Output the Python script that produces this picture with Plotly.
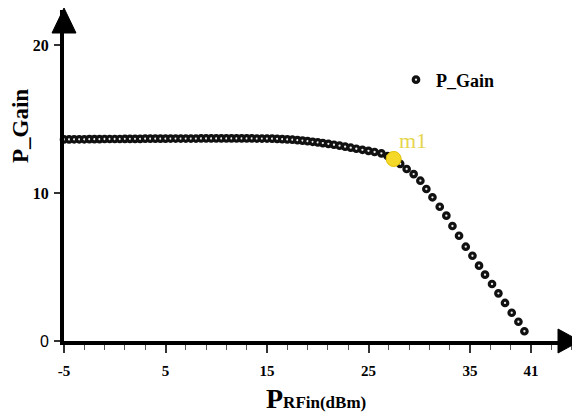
import plotly.graph_objects as go

# ---- data ----
P_RFin = [-5.0, -4.5, -4.0, -3.5, -3.0, -2.5, -2.0, -1.5, -1.0, -0.5,
          0.0, 0.5, 1.0, 1.5, 2.0, 2.5, 3.0, 3.5, 4.0, 4.5,
          5.0, 5.5, 6.0, 6.5, 7.0, 7.5, 8.0, 8.5, 9.0, 9.5,
          10.0, 10.5, 11.0, 11.5, 12.0, 12.5, 13.0, 13.5, 14.0, 14.5,
          15.0, 15.5, 16.0, 16.5, 17.0, 17.5, 18.0, 18.5, 19.0, 19.5,
          20.0, 20.5, 21.05, 21.6, 22.15, 22.7, 23.25, 23.8, 24.4, 25.0,
          25.6, 26.27, 26.88, 27.48, 28.12, 28.76, 29.45, 30.11, 30.70, 31.30,
          32.02, 32.67, 33.27, 33.92, 34.58, 35.24, 35.89, 36.48, 37.17, 37.80,
          38.45, 39.11, 39.77, 40.36]
P_Gain = [13.62, 13.62, 13.63, 13.63, 13.63, 13.64, 13.64, 13.64, 13.65, 13.65,
          13.65, 13.65, 13.66, 13.66, 13.66, 13.66, 13.67, 13.67, 13.67, 13.67,
          13.67, 13.68, 13.68, 13.68, 13.68, 13.68, 13.68, 13.69, 13.69, 13.69,
          13.69, 13.69, 13.69, 13.69, 13.69, 13.69, 13.69, 13.69, 13.68, 13.68,
          13.68, 13.67, 13.66, 13.64, 13.62, 13.60, 13.57, 13.54, 13.50, 13.46,
          13.42, 13.37, 13.32, 13.26, 13.20, 13.13, 13.06, 12.99, 12.92, 12.85,
          12.77, 12.68, 12.50, 12.30, 11.97, 11.62, 11.28, 10.83, 10.27, 9.71,
          9.07, 8.47, 7.77, 7.11, 6.37, 5.76, 5.09, 4.48, 3.85, 3.22,
          2.57, 1.91, 1.30, 0.66]
assert len(P_RFin) == len(P_Gain)

m1_index = 63
m1_label = "m1"

x_tickvals = [-5, 5, 15, 25, 35, 41]
x_ticktext = ["<b>-5</b>", "<b>5</b>", "<b>15</b>", "<b>25</b>", "<b>35</b>", "<b>41</b>"]
y_tickvals = [0, 10, 20]
y_ticktext = ["<span style='font-family:Liberation Sans'>0</span>", "<b>10</b>", "<b>20</b>"]

# ---- layout geometry (page body has an 8px margin) ----
OFF = 8
W, H = 580 - OFF, 415 - OFF
ML, MR, MT, MB = 64 - OFF, 0, 10 - OFF, 74
PW, PH = W - ML - MR, H - MT - MB
X_PX_PER_UNIT = 10.15
Y_PX_PER_UNIT = 14.8
x_range = [-5, -5 + PW / X_PX_PER_UNIT]
y_range = [0, PH / Y_PX_PER_UNIT]


def px(xp):
    """reference-page pixel x -> paper"""
    return (xp - OFF - ML) / PW


def py(yp):
    """reference-page pixel y -> paper"""
    return (MT + PH - (yp - OFF)) / PH


SERIF = "Liberation Serif, Times New Roman, serif"

fig = go.Figure()
fig.add_trace(go.Scatter(
    x=P_RFin, y=P_Gain, mode="markers", name="<b>P_Gain</b>",
    marker=dict(symbol="circle", size=5.5, color="#eeeeee",
                line=dict(color="#111111", width=3.2)),
    cliponaxis=False,
))
fig.add_trace(go.Scatter(
    x=[P_RFin[m1_index]], y=[P_Gain[m1_index]], mode="markers",
    showlegend=False,
    marker=dict(symbol="circle", size=15, color="#f4d92a",
                line=dict(color="#e0c000", width=1)),
))

fig.add_annotation(x=P_RFin[m1_index], y=P_Gain[m1_index], text=m1_label,
                   showarrow=False, xanchor="left", yanchor="bottom",
                   xshift=3, yshift=4,
                   font=dict(family=SERIF, size=22, color="#e6d64c"))

# axis titles
fig.add_annotation(xref="paper", yref="paper", x=px(21), y=py(126),
                   text="<b>P_Gain</b>", textangle=-90, showarrow=False,
                   xanchor="center", yanchor="middle",
                   font=dict(family=SERIF, size=23, color="black"))
fig.add_annotation(xref="paper", yref="paper", x=px(316), y=py(398),
                   text="<b>P<span style='font-size:17px'>RFin(dBm)</span></b>",
                   showarrow=False, xanchor="center", yanchor="middle",
                   font=dict(family=SERIF, size=28, color="black"))

# arrow heads
fig.add_shape(type="path", xref="paper", yref="paper",
              path=f"M {px(64)} {py(8)} L {px(52)} {py(33)} L {px(76)} {py(33)} Z",
              fillcolor="black", line=dict(color="black", width=1))
fig.add_shape(type="path", xref="paper", yref="paper",
              path=f"M {px(580)} {py(341)} L {px(558)} {py(329)} L {px(558)} {py(353)} Z",
              fillcolor="black", line=dict(color="black", width=1))

fig.update_layout(
    width=W, height=H,
    margin=dict(l=ML, r=MR, t=MT, b=MB),
    plot_bgcolor="white", paper_bgcolor="white",
    showlegend=True,
    legend=dict(x=px(396), y=py(80), xanchor="left", yanchor="middle",
                bgcolor="rgba(0,0,0,0)",
                font=dict(family=SERIF, size=18, color="black")),
    xaxis=dict(range=x_range, showgrid=False, zeroline=False,
               showline=True, linecolor="black", linewidth=4,
               ticks="outside", ticklen=8, tickwidth=1.5, tickcolor="#333",
               tickvals=x_tickvals, ticktext=x_ticktext,
               ticklabelstandoff=5,
               tickfont=dict(family=SERIF, size=15, color="black")),
    yaxis=dict(range=y_range, showgrid=False, zeroline=False,
               showline=True, linecolor="black", linewidth=4,
               ticks="outside", ticklen=6, tickwidth=1.5, tickcolor="#333",
               tickvals=y_tickvals, ticktext=y_ticktext,
               ticklabelstandoff=2,
               tickfont=dict(family=SERIF, size=16, color="black")),
)
fig.update_xaxes(minor=dict(ticks="outside", ticklen=5, tickwidth=1,
                            tickcolor="#555", tick0=-5, dtick=2))

fig.write_html("out.html")
